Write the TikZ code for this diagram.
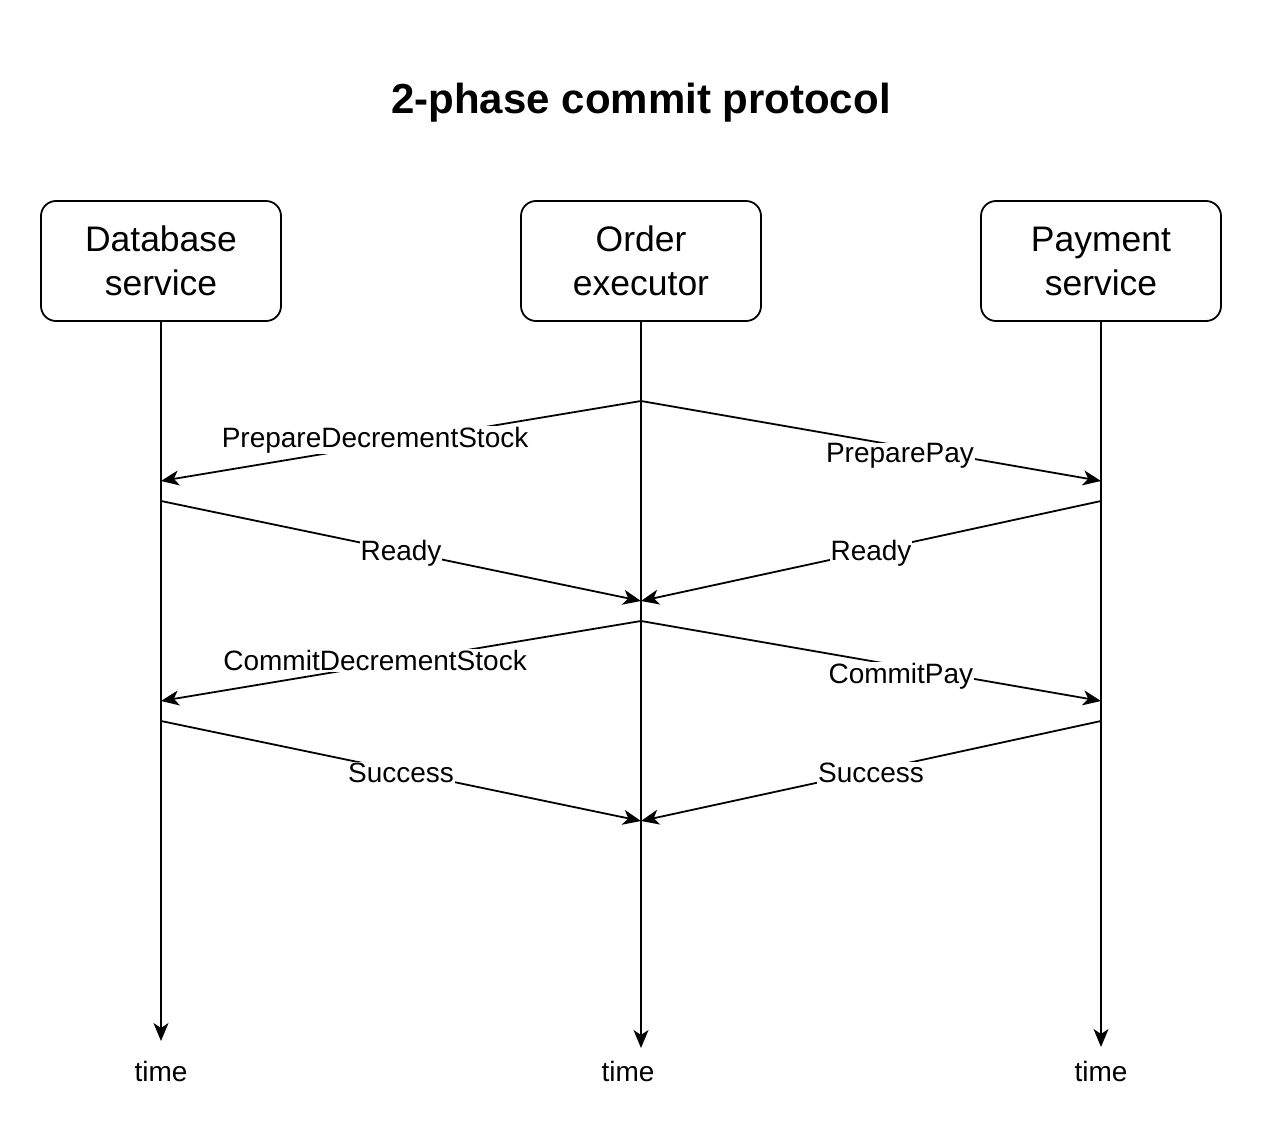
\documentclass[tikz,border=0pt]{standalone}
\usepackage{fontspec}
\setmainfont{Liberation Sans}
\usetikzlibrary{arrows.meta}
\begin{document}
\begin{tikzpicture}[x=1pt,y=-1pt,
  every node/.style={font=\fontsize{28}{33}\selectfont},
  party/.style={draw,line width=1.8pt,rounded corners=15pt,minimum width=240pt,minimum height=120pt,align=center,inner sep=0pt,font=\fontsize{35.5}{44}\selectfont},
  life/.style={line width=1.8pt,-{Stealth[length=18pt,width=15pt,inset=5pt]}},
  msg/.style={line width=1.8pt,-{Stealth[length=18pt,width=15pt,inset=5pt]}},
  lbl/.style={fill=white,inner sep=1pt}]
\useasboundingbox (0,0) rectangle (1262,1134);
\node[font=\fontsize{42}{50}\selectfont\bfseries] (title) at (641,103) {2-phase commit protocol};
\node[party] (db) at (161,261) {Database\\service};
\node[party] (oe) at (641,261) {Order\\executor};
\node[party] (pay) at (1101,261) {Payment\\service};
\coordinate (dbend) at (161,1041);
\coordinate (oeend) at (641,1048);
\coordinate (payend) at (1101,1047);
\draw[life] (db.south) -- (dbend);
\draw[life] (oe.south) -- (oeend);
\draw[life] (pay.south) -- (payend);
\node (t1) at (161,1071) {time};
\node (t2) at (628,1071) {time};
\node (t3) at (1101,1071) {time};
% message points
\coordinate (o1) at (641,401);
\coordinate (d1) at (161,481);
\coordinate (p1) at (1101,481);
\coordinate (d2) at (161,501);
\coordinate (p2) at (1101,501);
\coordinate (o2) at (641,601);
\coordinate (o3) at (641,621);
\coordinate (d3) at (161,701);
\coordinate (p3) at (1101,701);
\coordinate (d4) at (161,721);
\coordinate (p4) at (1101,721);
\coordinate (o4) at (641,821);
\draw[msg] (o1) -- node[lbl,pos=0.554,yshift=5pt] {PrepareDecrementStock} (d1);
\draw[msg] (o1) -- node[lbl,pos=0.563,yshift=-10pt] {PreparePay} (p1);
\draw[msg] (d2) -- node[lbl,pos=0.5,yshift=-2pt] {Ready} (o2);
\draw[msg] (p2) -- node[lbl,pos=0.5,yshift=-2pt] {Ready} (o2);
\draw[msg] (o3) -- node[lbl,pos=0.554,yshift=5pt] {CommitDecrementStock} (d3);
\draw[msg] (o3) -- node[lbl,pos=0.565,yshift=-10pt] {CommitPay} (p3);
\draw[msg] (d4) -- node[lbl,pos=0.5,yshift=-2pt] {Success} (o4);
\draw[msg] (p4) -- node[lbl,pos=0.5,yshift=-2pt] {Success} (o4);
\end{tikzpicture}
\end{document}
